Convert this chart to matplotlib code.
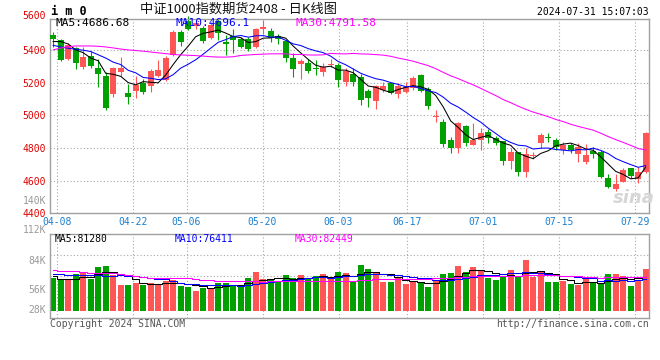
import numpy as np
import pandas as pd
import matplotlib
matplotlib.use("Agg")
import matplotlib.pyplot as plt

# ---------------- data ----------------
tick_idx = [1, 11, 18, 28, 38, 47, 57, 67, 77]
tick_labels = ["04-08", "04-22", "05-06", "05-20", "06-03", "06-17", "07-01", "07-15", "07-29"]

opens = [5492, 5461, 5345, 5412, 5298, 5360, 5290, 5243, 5133, 5262,
         5138, 5151, 5196, 5176, 5241, 5215, 5369, 5507, 5575, 5545,
         5533, 5475, 5578, 5451, 5483, 5466, 5465, 5420, 5528, 5516,
         5485, 5455, 5350, 5313, 5322, 5288, 5262, 5308, 5308, 5206,
         5254, 5237, 5149, 5088, 5155, 5196, 5133, 5143, 5169, 5245,
         5160, 4990, 4957, 4849, 4800, 4935, 4819, 4851, 4898, 4863,
         4842, 4722, 4773, 4650, 4752, 4831, 4865, 4849, 4790, 4818,
         4762, 4711, 4782, 4778, 4614, 4549, 4594, 4676, 4610, 4655]
closes = [5467, 5339, 5430, 5322, 5355, 5304, 5255, 5047, 5292, 5292,
          5114, 5186, 5145, 5271, 5277, 5353, 5508, 5446, 5530, 5567,
          5455, 5553, 5502, 5437, 5462, 5420, 5406, 5528, 5543, 5470,
          5465, 5353, 5285, 5335, 5272, 5284, 5296, 5312, 5218, 5270,
          5204, 5094, 5108, 5180, 5181, 5138, 5180, 5175, 5230, 5149,
          5058, 4994, 4825, 4800, 4951, 4831, 4849, 4892, 4859, 4829,
          4722, 4778, 4655, 4762, 4756, 4880, 4861, 4803, 4818, 4785,
          4805, 4757, 4762, 4620, 4563, 4580, 4665, 4626, 4651, 4894]
highs = [5508, 5465, 5441, 5420, 5415, 5395, 5345, 5263, 5298, 5358,
         5190, 5240, 5220, 5282, 5337, 5361, 5520, 5520, 5605, 5585,
         5545, 5573, 5598, 5492, 5528, 5480, 5480, 5536, 5583, 5532,
         5500, 5461, 5383, 5345, 5343, 5339, 5318, 5345, 5318, 5288,
         5288, 5250, 5160, 5185, 5206, 5200, 5196, 5206, 5241, 5251,
         5175, 5033, 4978, 4865, 4961, 4941, 4951, 4920, 4914, 4870,
         4845, 4802, 4778, 4798, 4775, 4890, 4890, 4858, 4837, 4830,
         4828, 4825, 4804, 4785, 4640, 4641, 4676, 4680, 4686, 4900]
lows = [5420, 5333, 5337, 5280, 5285, 5290, 5170, 5033, 5114, 5240,
        5070, 5108, 5128, 5140, 5235, 5208, 5360, 5426, 5520, 5530,
        5445, 5465, 5461, 5369, 5380, 5410, 5395, 5410, 5496, 5447,
        5434, 5324, 5237, 5223, 5258, 5249, 5242, 5298, 5175, 5176,
        5180, 5063, 5053, 5039, 5145, 5128, 5106, 5135, 5155, 5141,
        5039, 4961, 4804, 4767, 4767, 4814, 4818, 4790, 4833, 4815,
        4696, 4674, 4631, 4625, 4735, 4797, 4835, 4790, 4760, 4770,
        4715, 4702, 4737, 4615, 4553, 4539, 4590, 4614, 4584, 4645]
volumes = [80900, 75200, 76900, 89900, 94100, 77700, 107800, 110300, 87500, 63000,
           63000, 68600, 63000, 68600, 63000, 72800, 75200, 60500, 58800, 49000,
           54900, 56400, 68600, 68600, 60500, 63000, 80900, 95600, 77700, 75200,
           69600, 87500, 80900, 87500, 76900, 85000, 89900, 76900, 95600, 93100,
           72800, 112000, 102200, 91600, 71000, 71000, 81800, 65400, 71000, 68600,
           57300, 75200, 89900, 93100, 109500, 95600, 107800, 98000, 80900, 75200,
           85000, 99700, 83300, 124200, 83300, 95600, 71000, 71000, 73500, 65400,
           63000, 77700, 67100, 67100, 89900, 89900, 85000, 60500, 75200, 102200]

# moving-average values before enough history is visible
ma5_head = [5451, 5451, 5436, 5400]
ma10_head = [5428, 5418, 5410, 5404, 5398, 5390, 5370, 5350, 5325]
ma30_head = [5400, 5412, 5420, 5424, 5424, 5424, 5422, 5418, 5412, 5405,
             5400, 5396, 5392, 5387, 5382, 5377, 5372, 5369, 5367, 5365,
             5362, 5358, 5356, 5356, 5358, 5366, 5369, 5372, 5374]
vol_ma5_head = [85000, 78000, 78000, 78000]
vol_ma10_head = [90000, 89000, 88500, 88000, 88000, 87500, 87500, 86000, 84000]
vol_ma30_head = [100000, 98000, 97000, 97000, 95000, 93000, 93000, 93000, 92000, 90000,
                 88000, 85000, 82000, 80000, 79000, 79000, 79000, 79000, 79000, 78000,
                 76000, 76000, 74000, 73500, 73500, 73500, 72000, 72000, 71000]

price_ticks = [4400, 4600, 4800, 5000, 5200, 5400]
vol_tick_text = [("112K", 230.5), ("84K", 260.7), ("56K", 290.0), ("28K", 310.0)]


def moving_avg(vals, n, head):
    s = pd.Series(vals, dtype=float).rolling(n).mean().to_numpy()
    s[:n - 1] = head
    return s


ma5 = moving_avg(closes, 5, ma5_head)
ma10 = moving_avg(closes, 10, ma10_head)
ma30 = moving_avg(closes, 30, ma30_head)
vma5 = moving_avg(volumes, 5, vol_ma5_head)
vma10 = moving_avg(volumes, 10, vol_ma10_head)
vma30 = moving_avg(volumes, 30, vol_ma30_head)

# ---------------- styling ----------------
W, H = 660, 360
RED = "#ff5555"
GREEN = "#00a000"
GRID = "#a8a8a8"
SPINE = "#a0a0a0"
MONO = ["DejaVu Sans Mono"]
plt.rcParams["font.family"] = ["Noto Sans CJK SC", "DejaVu Sans"]

fig = plt.figure(figsize=(W / 100, H / 100), dpi=100)
fig.patch.set_facecolor("white")


def rect(l, t, r, b):
    return [l / W, 1 - b / H, (r - l) / W, (b - t) / H]


def ftext(x, y, s, **kw):
    fig.text(x / W, 1 - y / H, s, **kw)


ax = fig.add_axes(rect(50, 19, 649.3, 213.3))
axv = fig.add_axes(rect(50, 234.3, 649.3, 318.3))

n = len(closes)
x = np.arange(n)
o = np.array(opens, float)
c = np.array(closes, float)
hi = np.array(highs, float)
lo = np.array(lows, float)
up = c >= o
cols = [RED if u else GREEN for u in up]

xlim = (-0.43, 79.48)
grid_x = [i * 7.6 / 7.5 - 0.467 for i in tick_idx]
DOT = (0, (1, 2))

# ---- price panel ----
ax.set_xlim(*xlim)
ax.set_ylim(4400, 5589)
for gy in price_ticks[1:]:
    ax.axhline(gy, color=GRID, lw=0.8, ls=DOT, zorder=0)
for gx in grid_x:
    ax.axvline(gx, color=GRID, lw=0.8, ls=DOT, zorder=0)

ax.vlines(x, lo, hi, colors=cols, lw=0.8, zorder=2, clip_on=False)
body_h = np.maximum(np.abs(c - o), 5)
ax.bar(x, body_h, bottom=np.minimum(o, c), width=0.8, color=cols, lw=0, zorder=3)

ax.plot(x, ma5, color="black", lw=0.75, zorder=4)
ax.plot(x, ma10, color="#0000ff", lw=0.75, zorder=4)
ax.plot(x, ma30, color="#ff00ff", lw=0.75, zorder=4)

ax.set_yticks(price_ticks)
ax.set_yticklabels([str(t) for t in price_ticks])
ax.tick_params(axis="y", length=0, pad=3, labelcolor="#e00000", labelsize=7)
ax.set_xticks(grid_x)
ax.set_xticklabels(tick_labels)
ax.tick_params(axis="x", length=0, pad=2.5, labelcolor="#1a7fd0", labelsize=7)
for lab in ax.get_xticklabels() + ax.get_yticklabels():
    lab.set_family(MONO)
for sp in ax.spines.values():
    sp.set_color(SPINE)
    sp.set_linewidth(1.0)

# ---- volume panel ----
axv.set_xlim(*xlim)
axv.set_ylim(-18600, 187200)
for frac in (0.25, 0.5, 0.75):
    axv.axhline(-18600 + frac * (187200 + 18600), color=GRID, lw=0.8, ls=DOT, zorder=0)
for gx in grid_x:
    axv.axvline(gx, color=GRID, lw=0.8, ls=DOT, zorder=0)
axv.bar(x, volumes, width=0.8, color=cols, lw=0, zorder=2)
axv.plot(x, vma5, color="black", lw=0.75, drawstyle="steps-mid", zorder=3)
axv.plot(x, vma10, color="#0000ff", lw=0.75, drawstyle="steps-mid", zorder=3)
axv.plot(x, vma30, color="#ff00ff", lw=0.75, drawstyle="steps-mid", zorder=3)
axv.set_xticks([])
axv.set_yticks([])
for sp in axv.spines.values():
    sp.set_color(SPINE)
    sp.set_linewidth(1.0)

# ---- texts ----
ftext(51, 11.5, "i m 0", fontsize=8.5, fontweight="bold", family=MONO, va="center", ha="left")
ftext(140, 9, "中证1000指数期货2408 - 日K线图", fontsize=9.5, va="center", ha="left", color="#111111")
ftext(648.5, 11.7, "2024-07-31 15:07:03", fontsize=7, family=MONO, va="center", ha="right")
ftext(46, 15.8, "5600", fontsize=7, family=MONO, va="center", ha="right", color="#e00000")
ftext(46, 201, "140K", fontsize=7, family=MONO, va="center", ha="right", color="#999999")
for s, yy in vol_tick_text:
    ftext(46, yy, s, fontsize=7, family=MONO, va="center", ha="right", color="#999999")

ftext(55, 23.3, "MA5:4686.68", fontsize=8, family=MONO, va="center", ha="left", color="black")
ftext(175, 23.3, "MA10:4696.1", fontsize=8, family=MONO, va="center", ha="left", color="#0000ff")
ftext(295, 23.3, "MA30:4791.58", fontsize=8, family=MONO, va="center", ha="left", color="#ff00ff")

ftext(55, 238.5, "MA5:81280", fontsize=7, family=MONO, va="center", ha="left", color="black")
ftext(175, 238.5, "MA10:76411", fontsize=7, family=MONO, va="center", ha="left", color="#0000ff")
ftext(295, 238.5, "MA30:82449", fontsize=7, family=MONO, va="center", ha="left", color="#ff00ff")

ftext(50, 324, "Copyright 2024 SINA.COM", fontsize=7, family=MONO, va="center", ha="left", color="#555555")
ftext(649, 324, "http://finance.sina.com.cn", fontsize=7, family=MONO, va="center", ha="right", color="#555555")
ftext(634, 198, "sina", fontsize=13, fontweight="bold", style="italic", va="center", ha="center",
      color="#d6d6d6", family=["DejaVu Sans"])

fig.savefig("out.png", dpi=100, facecolor="white")
